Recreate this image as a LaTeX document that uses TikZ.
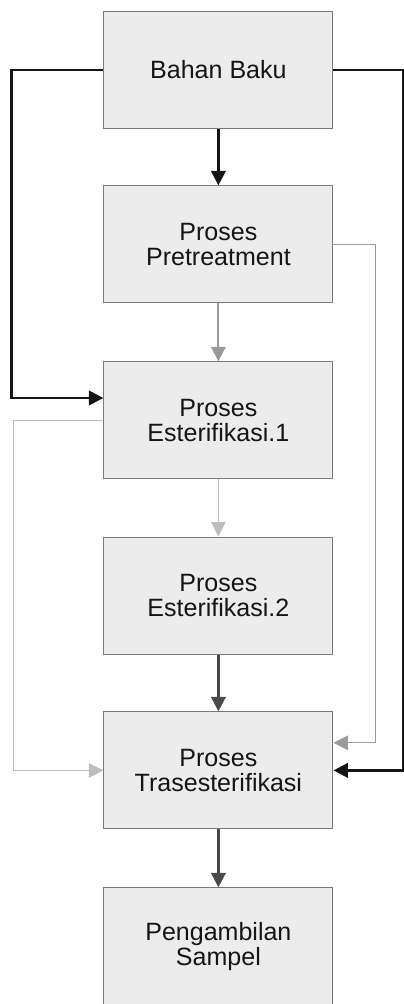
\documentclass[tikz,border=0pt]{standalone}
\usepackage{fontspec}
\setsansfont{Liberation Sans}
\usepackage{tikz}
\usetikzlibrary{
  arrows.meta,
  positioning
}
\definecolor{BoxFill}{HTML}{ECECEC}
\definecolor{BoxLine}{HTML}{7A7A7A}
\definecolor{InkDark}{HTML}{151515}
\definecolor{InkMid}{HTML}{4A4A4A}
\definecolor{InkGrey}{HTML}{9A9A9A}
\definecolor{InkPale}{HTML}{BDBDBD}

\begin{document}
\begin{tikzpicture}[
  font=\sffamily,
  >={Triangle[length=0.36cm,width=0.36cm]},
  proses/.style={
    minimum width=5.725cm,
    minimum height=2.925cm,
    align=center,
    draw=BoxLine,
    fill=BoxFill,
    line width=0.8pt,
    text=InkDark,
    font=\fontsize{17.8pt}{17.5pt}\selectfont\sffamily
  },
  mainflow/.style={->,draw=InkDark,line width=1.8pt},
  darkflow/.style={->,draw=InkMid,line width=1.8pt},
  greyflow/.style={->,draw=InkGrey,line width=1.3pt},
  paleflow/.style={->,draw=InkPale,line width=0.8pt}
]
\useasboundingbox (0,0) rectangle (10.1,-25.1);

\node[proses] (bahan) at (5.46,-1.75) {Bahan Baku};
\node[proses] (pretreat) at (5.46,-6.11) {Proses\\Pretreatment};
\node[proses] (ester1) at (5.46,-10.51) {Proses\\Esterifikasi.1};
\node[proses] (ester2) at (5.46,-14.89) {Proses\\Esterifikasi.2};
\node[proses] (trans) at (5.46,-19.26) {Proses\\Trasesterifikasi};
\node[proses] (sampel) at (5.46,-23.66) {Pengambilan\\Sampel};

\draw[mainflow] (bahan) -- (pretreat);
\draw[greyflow] (pretreat) -- (ester1);
\draw[paleflow] (ester1) -- (ester2);
\draw[darkflow] (ester2) -- (trans);
\draw[darkflow] (trans) -- (sampel);

\draw[mainflow] (bahan.west) -- ++(-2.30,0) |- ([yshift=0.56cm]ester1.west);
\draw[mainflow] (bahan.east) -- ++(1.75,0) |- (trans.east);
\draw[greyflow,line width=0.9pt] (pretreat.east) -- ++(1.05,0)
  |- ([yshift=0.69cm]trans.east);
\draw[paleflow] (ester1.west) -- ++(-2.25,0) |- (trans.west);
\end{tikzpicture}
\end{document}
